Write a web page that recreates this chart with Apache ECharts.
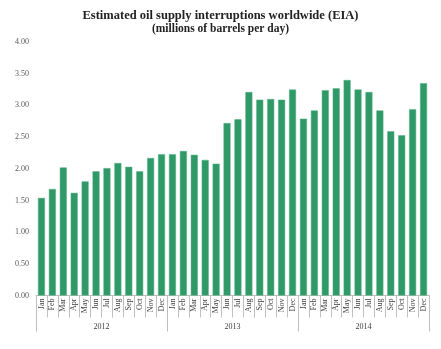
<!DOCTYPE html>
<html>
<head>
<meta charset="utf-8">
<script src="https://cdn.jsdelivr.net/npm/echarts@6/dist/echarts.min.js"></script>
<style>html,body{margin:0;padding:0;background:#fff}#c{width:441px;height:349px}</style>
</head>
<body>
<div id="c"></div>
<script>
var months = ['Jan','Feb','Mar','Apr','May','Jun','Jul','Aug','Sep','Oct','Nov','Dec',
              'Jan','Feb','Mar','Apr','May','Jun','Jul','Aug','Sep','Oct','Nov','Dec',
              'Jan','Feb','Mar','Apr','May','Jun','Jul','Aug','Sep','Oct','Nov','Dec'];
var years = ['2012','2013','2014'];
var supply = [1.54,1.68,2.02,1.62,1.80,1.96,2.01,2.09,2.03,1.96,2.17,2.23,
              2.23,2.28,2.22,2.14,2.08,2.72,2.78,3.21,3.09,3.10,3.09,3.25,
              2.79,2.92,3.24,3.27,3.40,3.25,3.21,2.92,2.59,2.53,2.94,3.35];
var yTicks = {min:0, max:4, interval:0.5};

var chart = echarts.init(document.getElementById('c'), null, {renderer:'canvas'});
chart.setOption({
  animation:false,
  backgroundColor:'#fff',
  title:{
    text:'{a|Estimated oil supply interruptions worldwide (EIA)}\n{b|(millions of barrels per day)}',
    left:'center', top:4,
    textStyle:{
      rich:{
        a:{fontFamily:'Liberation Serif', fontWeight:'bold', fontSize:12.5, color:'#222', lineHeight:13.5, align:'center'},
        b:{fontFamily:'Liberation Serif', fontWeight:'bold', fontSize:11.5, color:'#222', lineHeight:13.5, align:'center'}
      }
    }
  },
  grid:{left:36, right:12, top:42, bottom:53.5, containLabel:false},
  xAxis:[{
    type:'category', data:months, gridIndex:0, position:'bottom',
    axisLine:{show:true, lineStyle:{color:'#bfbfbf', width:1}},
    axisTick:{show:true, length:22, alignWithLabel:false, lineStyle:{color:'#bfbfbf'}},
    axisLabel:{rotate:90, interval:0, margin:3, fontFamily:'Liberation Serif', fontSize:8, color:'#404040'}
  },{
    type:'category', data:years, gridIndex:0, position:'bottom', offset:0,
    axisLine:{show:false},
    axisTick:{show:true, length:36, lineStyle:{color:'#bfbfbf'}},
    axisLabel:{margin:27, fontFamily:'Liberation Serif', fontSize:8, color:'#404040'}
  }],
  yAxis:{
    type:'value', min:yTicks.min, max:yTicks.max, interval:yTicks.interval,
    axisLine:{show:false}, axisTick:{show:false}, splitLine:{show:false},
    axisLabel:{formatter:function(v){return v.toFixed(2);}, margin:7, fontFamily:'Liberation Serif', fontSize:8, color:'#595959'}
  },
  series:[{
    type:'bar', data:supply, xAxisIndex:0, barWidth:'64%',
    itemStyle:{color:'#2f9968', borderColor:'#55b083', borderWidth:0.5}
  }]
});
</script>
</body>
</html>
